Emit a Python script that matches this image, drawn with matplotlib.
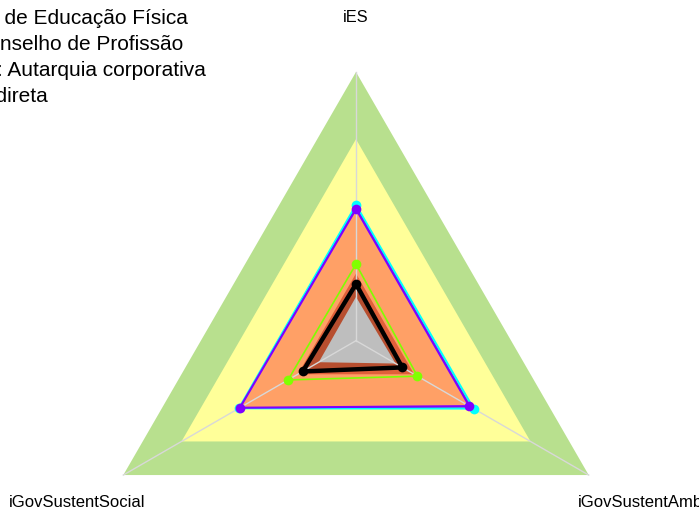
import numpy as np
import matplotlib
matplotlib.use("Agg")
import matplotlib.pyplot as plt

plt.rcParams['font.family'] = ['Liberation Sans', 'DejaVu Sans']

# axes in fmsb order (counterclockwise from top)
axes_labels = ['iES', 'iGovSustentSocial', 'iGovSustentAmb']

# background bands
band_levels = [1.0, 0.75, 0.5, 0.25]
band_colors = ['#B8E08E', '#FFFF99', '#FFA066', '#E0603A']

# inner reference polygon
ref_values = [0.163, 0.16, 0.17]

# series (iES, iGovSustentSocial, iGovSustentAmb)
cyan_vals = [0.505, 0.503, 0.505]
blue_vals = [0.495, 0.50, 0.492]
purple_vals = [0.49, 0.499, 0.487]
lime_vals = [0.285, 0.292, 0.264]
black_vals = [0.211, 0.229, 0.199]

title_lines = ['Conselho Regional de Educação Física',
               'Tipo: Conselho de Profissão',
               'Natureza: Autarquia corporativa',
               'Administração indireta']

theta = np.deg2rad(90 + np.arange(3) * 120)


def xy(vals):
    v = np.asarray(vals, dtype=float)
    x = v * np.cos(theta)
    y = v * np.sin(theta)
    return np.append(x, x[0]), np.append(y, y[0])


fig = plt.figure(figsize=(6.99, 5.13), dpi=100)
ax = fig.add_axes([0, 0, 1, 1])
ax.set_xlim(-356 / 268.7, (699 - 356) / 268.7)
ax.set_ylim(-172.3 / 268.7, 340.7 / 268.7)
ax.axis('off')

for lev, col in zip(band_levels, band_colors):
    x, y = xy([lev] * 3)
    ax.fill(x, y, color=col, lw=0, zorder=1)

x, y = xy(black_vals)
ax.fill(x, y, color='black', alpha=0.18, lw=0, zorder=2)
x, y = xy(ref_values)
ax.fill(x, y, color='#BEBEBE', lw=0, zorder=2)

for t in theta:
    ax.plot([0, np.cos(t)], [0, np.sin(t)], color='#D8D8D8', lw=1, zorder=3)

series = [(cyan_vals, '#00FFFF', 1.5, 7),
          (blue_vals, '#0080FF', 0.8, 0),
          (purple_vals, '#8000FF', 1.5, 7),
          (lime_vals, '#80FF00', 1.2, 7),
          (black_vals, 'black', 3.2, 7)]
for i, (vals, col, lw, ms) in enumerate(series):
    x, y = xy(vals)
    ax.plot(x, y, color=col, lw=lw, zorder=4 + i)
    if ms:
        ax.plot(x[:-1], y[:-1], 'o', color=col, ms=ms, mec='none', zorder=4 + i)

# axis labels
ax.text(0, 1.201, axes_labels[0], ha='center', va='center', fontsize=11.8)
ax.text(-1.038, -0.604, axes_labels[1], ha='center', va='center', fontsize=12)
ax.text(1.058, -0.604, axes_labels[2], ha='center', va='center', fontsize=12)

# title, cut at left edge
right_ends = [188, 183, 206, 48]
for i, (line, xe) in enumerate(zip(title_lines, right_ends)):
    fig.text(xe / 699, 1 - (18 + 26 * i) / 513, line, ha='right', va='center',
             fontsize=15)

fig.savefig('out.png', dpi=100)
